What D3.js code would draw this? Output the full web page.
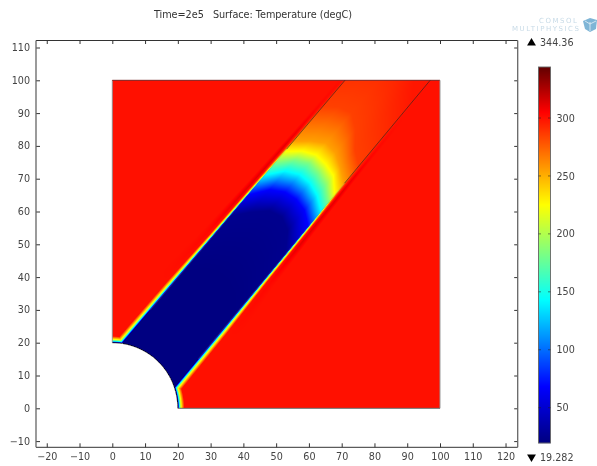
<!DOCTYPE html>
<html><head><meta charset="utf-8">
<script src="https://cdn.jsdelivr.net/npm/d3@7/dist/d3.min.js"></script>
<style>
html,body{margin:0;padding:0;background:#fff;overflow:hidden}
#wrap{position:relative;width:597px;height:466px}
canvas,svg{position:absolute;left:0;top:0}
canvas{filter:blur(.45px)}
svg{filter:blur(.25px)}
text{font-family:"DejaVu Sans",sans-serif;fill:#444}
</style></head><body><div id="wrap"></div>
<script>
// ---- data ----
const titleText = "Time=2e5\u00a0\u00a0\u00a0Surface: Temperature (degC)";
const xTicks = [-20,-10,0,10,20,30,40,50,60,70,80,90,100,110,120];
const yTicks = [-10,0,10,20,30,40,50,60,70,80,90,100,110];
const barTicks = [50,100,150,200,250,300];
const tMin = 19.282, tMax = 344.36;
const rockTemp = 300;
const holeRadius = 20;
// palette
const paletteTemps = [19.282,68,143,184,225,305,344.36];
const paletteColors = ["#00007f","#0000ff","#00ffff","#7fff7f","#ffff00","#ff0000","#600000"];
// band edges (x at two heights)
const edgeY = [[20.3,100],[7.1,100]];
const upperEdgeX = [3.4,71];
const lowerEdgeX = [19.6,97];
// isotherms inside the band: position along the band for each temperature, per cross-band row
const isoTemps = [20,25,68,143,184,225,255,285,298];
const isoAcross = [0,.2,.4,.6,.8,1];
const isoRow0 = [45,68,76.6,84.5,89.5,94,98,112,142];
const isoRow1 = [50,73,82,89.5,94,97.5,101.5,115,146];
const isoRow2 = [52,77,84.5,91.5,96,99.3,104,116,148];
const isoRow3 = [52,78,85,91.5,95.5,99,103.5,113,144];
const isoRow4 = [50,76,84,90,94,97.8,101,108,136];
const isoRow5 = [45,70,81,87,90.5,93.5,98,105,130];
const isoRows = [isoRow0,isoRow1,isoRow2,isoRow3,isoRow4,isoRow5];
// thermal layer outside the band
const layerAlong = [15,40,60,80,100,125];
const layerWidth = [2,1.7,1.1,.8,.6,.5];
const haloAlong = [15,40,60,75,95,110,125];
const haloHeat = [0,0,3,12,12,4,0];

// ---- scales ----
const W=597,H=466;
const x=d3.scaleLinear().domain([0,100]).range([112.3,440]);
const y=d3.scaleLinear().domain([0,100]).range([408.3,80.3]);
const frame={l:36,r:517.7,t:40.5,b:447.3};
const color=d3.scaleLinear().domain(paletteTemps).range(paletteColors).clamp(true);
const barY=d3.scaleLinear().domain([50,300]).range([407.7,118]);

const xUpper=d3.scaleLinear().domain(edgeY[0]).range(upperEdgeX);
const xLower=d3.scaleLinear().domain(edgeY[1]).range(lowerEdgeX);
const rowScale=d3.scaleLinear().domain(isoAcross).range(isoAcross.map((_,i)=>i)).clamp(true);
const widthAt=d3.scaleLinear().domain(layerAlong).range(layerWidth).clamp(true);
const haloAt=d3.scaleLinear().domain(haloAlong).range(haloHeat).clamp(true);
const blend=d3.scaleLinear().domain([0,.2,.45,1,10]).range([0,.4,.7,1,1]).clamp(true);
const haloShape=d3.scaleLinear().domain([1,1.8,3.2]).range([0,1,0]).clamp(true);
const perp=0.763;

function bandTemp(s,n){
  const r=rowScale(Math.max(0,Math.min(1,n)));
  const i=Math.min(isoRows.length-2,Math.floor(r)),f=r-i;
  const pos=isoTemps.map((_,k)=>isoRows[i][k]*(1-f)+isoRows[i+1][k]*f);
  return d3.scaleLinear().domain(pos).range(isoTemps).clamp(true)(s);
}
function temperature(px,py){
  const s=.64*px+.77*py;
  const xu=xUpper(py),xl=xLower(py);
  const n=(px-xu)/(xl-xu);
  const arc=Math.hypot(px,py)-holeRadius;
  if(n>=0&&n<=1) return bandTemp(s,n);
  const dEdge=(n<0?(xu-px):(px-xl))*perp;
  const d=Math.min(dEdge,arc);
  const edge=d===arc?tMin:bandTemp(s,n);
  const w=widthAt(s),fr=d/w;
  const hot=d===arc?0:haloAt(s)*haloShape(fr);
  return edge+(rockTemp-edge)*blend(fr)+hot;
}

// ---- raster surface ----
const wrap=d3.select("#wrap");
const canvas=wrap.append("canvas").attr("width",W).attr("height",H);
const ctx=canvas.node().getContext("2d");
ctx.fillStyle="#fff";ctx.fillRect(0,0,W,H);
const x0=Math.floor(x(0)),x1=Math.ceil(x(100)),y0=Math.floor(y(100)),y1=Math.ceil(y(0));
for(let j=y0;j<y1;j++)for(let i=x0;i<x1;i++){
  const dx=x.invert(i+.5),dy=y.invert(j+.5);
  if(dx<0||dx>100||dy<0||dy>100)continue;
  if(Math.hypot(dx,dy)<holeRadius)continue;
  ctx.fillStyle=color(temperature(dx,dy));
  ctx.fillRect(i,j,1,1);
}

// ---- overlay ----
const svg=wrap.append("svg").attr("width",W).attr("height",H);
svg.append("text").attr("x",154).attr("y",18).attr("font-size",9.7).attr("textLength",198).style("fill","#333").text(titleText);

// geometry outline
const hole=d3.range(0,91,3).map(a=>[holeRadius*Math.sin(a*Math.PI/180),holeRadius*Math.cos(a*Math.PI/180)]);
const line=d3.line().x(d=>x(d[0])).y(d=>y(d[1]));
svg.append("path").attr("d",line(hole)).attr("fill","none").attr("stroke","#111").attr("stroke-width",.9).attr("opacity",.85);
svg.append("path").attr("d",line([[0,20],[0,100]])).attr("fill","none").attr("stroke","#999").attr("stroke-width",1);
svg.append("path").attr("d",line([[0,100],[100,100]])).attr("fill","none").attr("stroke","#7a3030").attr("stroke-width",1);
svg.append("path").attr("d",line([[100,100],[100,0]])).attr("fill","none").attr("stroke","#999").attr("stroke-width",1);
svg.append("path").attr("d",line([[100,0],[20,0]])).attr("fill","none").attr("stroke","#666").attr("stroke-width",1);
// band edge lines where the colours meet
svg.append("path").attr("d",line([[xUpper(79),79],[71,100]])).attr("fill","none").attr("stroke","#222").attr("stroke-width",.8).attr("opacity",.75);
svg.append("path").attr("d",line([[xLower(68.6),68.6],[97,100]])).attr("fill","none").attr("stroke","#222").attr("stroke-width",.8).attr("opacity",.75);
svg.append("path").attr("d",line([[xUpper(30),30],[xUpper(79),79]])).attr("fill","none").attr("stroke","#887").attr("stroke-width",.6).attr("opacity",.5);
svg.append("path").attr("d",line([[xLower(15),15],[xLower(68.6),68.6]])).attr("fill","none").attr("stroke","#887").attr("stroke-width",.6).attr("opacity",.5);

// frame and axes
function styleAxis(g,size){g.select(".domain").remove();
  g.selectAll("line").attr("stroke","#333").attr("stroke-width",1);
  g.selectAll("text").attr("font-size",size).style("font-family",'"DejaVu Sans",sans-serif');}
svg.append("g").attr("transform",`translate(0,${frame.b})`)
  .call(d3.axisBottom(x).tickValues(xTicks).tickFormat(d3.format("d")).tickSize(-4).tickPadding(6))
  .call(styleAxis,9.6);
svg.append("g").attr("transform",`translate(0,${frame.t})`)
  .call(d3.axisTop(x).tickValues(xTicks).tickFormat("").tickSize(-3.5))
  .call(styleAxis,9.6);
svg.append("g").attr("transform",`translate(${frame.l},0)`)
  .call(d3.axisLeft(y).tickValues(yTicks).tickFormat(d3.format("d")).tickSize(-4).tickPadding(6))
  .call(styleAxis,9.6);
svg.append("g").attr("transform",`translate(${frame.r},0)`)
  .call(d3.axisRight(y).tickValues(yTicks).tickFormat("").tickSize(-3.5))
  .call(styleAxis,9.6);
svg.append("path").attr("d",`M${frame.l},${frame.t}H${frame.r}M${frame.l},${frame.b}H${frame.r}`).attr("stroke","#333").attr("stroke-width",1).attr("fill","none");
svg.append("path").attr("d",`M${frame.l},${frame.t}V${frame.b}M${frame.r},${frame.t}V${frame.b}`).attr("stroke","#666").attr("stroke-width",1.3).attr("fill","none");

// colour bar
const bx0=538.5,bx1=550.5;
const barTop=Math.round(barY(tMax)),barBot=Math.round(barY(tMin));
svg.append("g").selectAll("rect").data(d3.range(barTop,barBot)).join("rect")
  .attr("x",bx0).attr("width",bx1-bx0).attr("y",d=>d).attr("height",1.2)
  .attr("fill",d=>color(barY.invert(d+.5)));
svg.append("rect").attr("x",bx0).attr("y",barTop).attr("width",bx1-bx0).attr("height",barBot-barTop).attr("fill","none").attr("stroke","#666").attr("stroke-width",.9);
svg.append("g").attr("transform",`translate(${bx1},0)`)
  .call(d3.axisRight(barY).tickValues(barTicks).tickSize(0).tickPadding(6)).call(styleAxis,9.6);
svg.append("g").selectAll("path").data(barTicks).join("path")
  .attr("d",d=>`M${bx0},${barY(d)}h2.5M${bx1},${barY(d)}h-2.5`).attr("stroke","#222").attr("stroke-width",.8).attr("opacity",.7);

// extreme markers
svg.append("path").attr("transform","translate(531.5,43)").attr("d",d3.symbol(d3.symbolTriangle,34)()).attr("fill","#000");
svg.append("path").attr("transform","translate(531.5,457) rotate(180)").attr("d",d3.symbol(d3.symbolTriangle,34)()).attr("fill","#000");
svg.append("text").attr("x",540).attr("y",46).attr("font-size",9.6).text(String(tMax));
svg.append("text").attr("x",540).attr("y",460.5).attr("font-size",9.6).text(String(tMin));

// watermark
const logo=svg.append("g");
logo.append("text").attr("x",539).attr("y",23).attr("font-size",7).attr("textLength",38).style("fill","#c8dbe7").text("COMSOL");
logo.append("text").attr("x",512).attr("y",31).attr("font-size",7).attr("textLength",67).style("fill","#c8dbe7").text("MULTIPHYSICS");
logo.append("path").attr("d","M583,21L590,18L597,20L596,29L590,32L585,29Z").attr("fill","#7fb5d6");
logo.append("path").attr("d","M590,22L590,31M585,21L590,24L596,21").attr("stroke","#e6f1f7").attr("fill","none").attr("stroke-width",.8);
</script></body></html>
